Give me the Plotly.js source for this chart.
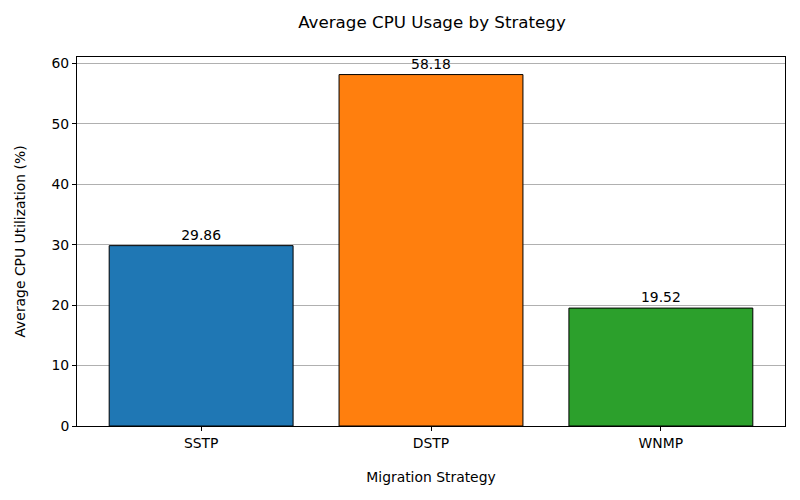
<!DOCTYPE html>
<html>
<head>
<meta charset="utf-8">
<script src="https://cdn.plot.ly/plotly-3.0.1.min.js"></script>
<style>html,body{margin:0;padding:0;background:#fff}</style>
</head>
<body>
<div id="chart" style="width:800px;height:500px"></div>
<script>
const categories = ["SSTP", "DSTP", "WNMP"];
const cpuValues = [29.86, 58.18, 19.52];
const barColors = ["#1f77b4", "#ff7f0e", "#2ca02c"];
const valueLabels = cpuValues.map(v => v.toFixed(2));

const font = {family: "DejaVu Sans, sans-serif", size: 13.9, color: "#000"};

Plotly.newPlot("chart", [{
  type: "bar",
  x: categories,
  y: cpuValues,
  width: 0.8,
  marker: {color: barColors, line: {color: "#000", width: 1}},
  text: valueLabels,
  textposition: "outside",
  textfont: font,
  cliponaxis: false,
  hoverinfo: "none"
}], {
  width: 800, height: 500,
  margin: {l: 77, r: 15, t: 57, b: 74},
  paper_bgcolor: "#fff", plot_bgcolor: "#fff",
  font: font,
  showlegend: false,
  title: {text: "Average CPU Usage by Strategy", font: {family: font.family, size: 16.7, color: "#000"}, x: 0.54, xanchor: "center", y: 0.955, yanchor: "middle"},
  xaxis: {
    title: {text: "Migration Strategy", font: font, standoff: 22},
    range: [-0.54, 2.54],
    showline: true, linecolor: "#000", linewidth: 1, mirror: true,
    ticks: "outside", ticklen: 4, tickcolor: "#000",
    showgrid: false, zeroline: false
  },
  yaxis: {
    title: {text: "Average CPU Utilization (%)", font: font, standoff: 22},
    range: [0, 61.089],
    tickvals: [0, 10, 20, 30, 40, 50, 60],
    showline: true, linecolor: "#000", linewidth: 1, mirror: true,
    ticks: "outside", ticklen: 4, tickcolor: "#000",
    showgrid: true, gridcolor: "#b0b0b0", gridwidth: 1,
    zeroline: false
  },
  bargap: 0.2
}, {staticPlot: true});
</script>
</body>
</html>
